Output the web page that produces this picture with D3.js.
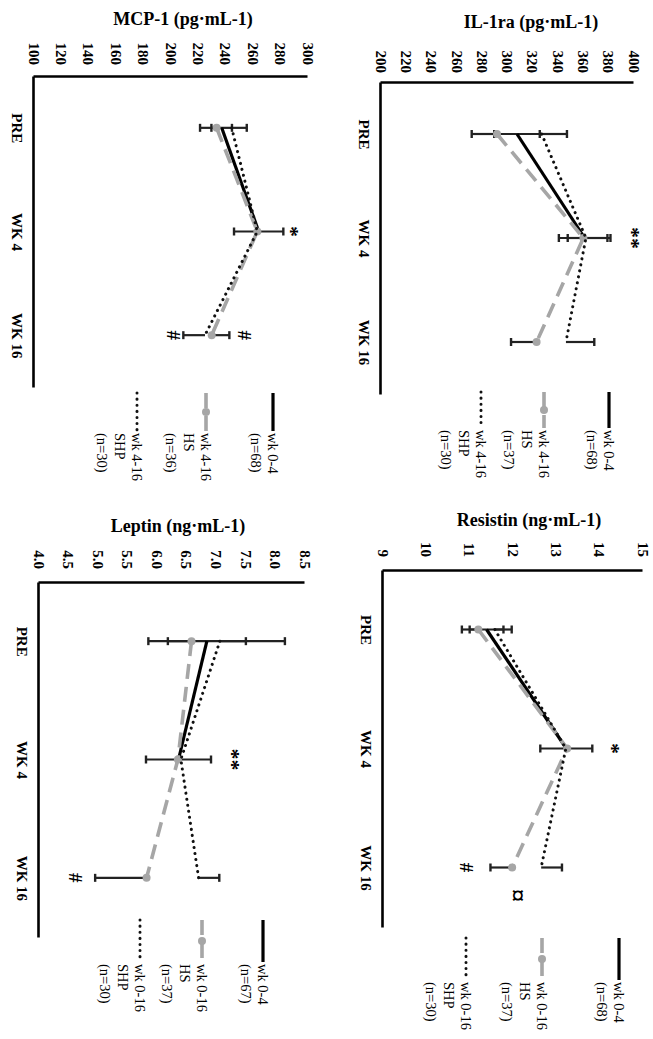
<!DOCTYPE html>
<html>
<head>
<meta charset="utf-8">
<script src="https://cdn.jsdelivr.net/npm/d3@7"></script>
<style>
body { margin: 0; background: #fff; }
text { font-family: "Liberation Serif", "Times New Roman", serif; }
</style>
</head>
<body>
<svg id="fig" width="653" height="1039"></svg>
<script>
var times = ["PRE", "WK 4", "WK 16"];

// MCP-1 (pg/mL)
var mcp_ticks = [100, 120, 140, 160, 180, 200, 220, 240, 260, 280, 300];
var mcp_wk04 = [237, 264, null];
var mcp_hs = [233.3, 263, 229.7];
var mcp_shp = [244.3, 263, 224.8];
// error bars as [minus, plus]; null = no bar
var mcp_wk04_err = [[7.5, 7.5], [18, 18], null];
var mcp_hs_err = [[12.1, 0], null, [0, 12.9]];
var mcp_shp_err = [[0, 11], null, [15.8, 0]];
var mcp_legend = [["wk 0-4", "(n=68)"], ["wk 4-16", "HS", "(n=36)"], ["wk 4-16", "SHP", "(n=30)"]];
var mcp_marks = [["WK 4", 288, "*"], ["WK 16", 201.5, "#"], ["WK 16", 254, "#"]];

// IL-1ra (pg/mL)
var il_ticks = [200, 220, 240, 260, 280, 300, 320, 340, 360, 380, 400];
var il_wk04 = [307.5, 361, null];
var il_hs = [291.7, 360, 323];
var il_shp = [327, 362, 346.2];
var il_wk04_err = [[18, 18], [20.4, 20.4], null];
var il_hs_err = [[20, 0], [12.4, 0], [20.2, 0]];
var il_shp_err = [[0, 20], [0, 17], [0, 22.4]];
var il_legend = [["wk 0-4", "(n=68)"], ["wk 4-16", "HS", "(n=37)"], ["wk 4-16", "SHP", "(n=30)"]];
var il_marks = [["WK 4", 399, "**"]];

// Leptin (ng/mL)
var lep_ticks = [4.0, 4.5, 5.0, 5.5, 6.0, 6.5, 7.0, 7.5, 8.0, 8.5];
var lep_wk04 = [6.84, 6.36, null];
var lep_hs = [6.58, 6.35, 5.82];
var lep_shp = [7.06, 6.40, 6.70];
var lep_wk04_err = [[0.66, 0.66], [0.55, 0.55], null];
var lep_hs_err = [[0.73, 0], null, [0.87, 0]];
var lep_shp_err = [[0, 1.1], null, [0, 0.35]];
var lep_legend = [["wk 0-4", "(n=67)"], ["wk 0-16", "HS", "(n=37)"], ["wk 0-16", "SHP", "(n=30)"]];
var lep_marks = [["WK 4", 7.28, "**"], ["WK 16", 4.61, "#"]];

// Resistin (ng/mL)
var res_ticks = [9, 10, 11, 12, 13, 14, 15];
var res_wk04 = [11.39, 13.23, null];
var res_hs = [11.20, 13.25, 11.98];
var res_shp = [11.58, 13.22, 12.65];
var res_wk04_err = [[0.39, 0.39], [0.6, 0.6], null];
var res_hs_err = [[0.38, 0], null, [0.5, 0]];
var res_shp_err = [[0, 0.39], null, [0, 0.48]];
var res_legend = [["wk 0-4", "(n=68)"], ["wk 0-16", "HS", "(n=37)"], ["wk 0-16", "SHP", "(n=30)"]];
var res_marks = [["WK 4", 14.3, "*"], ["WK 16", 10.92, "#"], ["WK 16", 12.11, "¤"]];

// line styles: wk 0-4 solid, HS grey dashed with dots, SHP dotted
var styles = [
    {stroke: "#000", width: 3.2, dash: null, cap: "butt", marker: false},
    {stroke: "#a6a6a6", width: 3.6, dash: "15,8", cap: "butt", marker: true},
    {stroke: "#111", width: 3, dash: "0.1,6", cap: "round", marker: false}
];

var panels = [
    {title: "MCP-1 (pg·mL-1)", ticks: mcp_ticks, fmt: d3.format("d"),
     series: [[mcp_wk04, mcp_wk04_err], [mcp_hs, mcp_hs_err], [mcp_shp, mcp_shp_err]],
     legend: mcp_legend, marks: mcp_marks,
     x0: 34, y0: 76, w: 274, h: 311, tx: 183, ty: 25, gap: 11, lx: 317, ly: [-239, -172, -103], sw: 38},
    {title: "IL-1ra (pg·mL-1)", ticks: il_ticks, fmt: d3.format("d"),
     series: [[il_wk04, il_wk04_err], [il_hs, il_hs_err], [il_shp, il_shp_err]],
     legend: il_legend, marks: il_marks,
     x0: 381, y0: 82, w: 253, h: 312, tx: 531, ty: 28, gap: 9, lx: 310, ly: [-228, -163, -100], sw: 36},
    {title: "Leptin (ng·mL-1)", ticks: lep_ticks, fmt: d3.format(".1f"),
     series: [[lep_wk04, lep_wk04_err], [lep_hs, lep_hs_err], [lep_shp, lep_shp_err]],
     legend: lep_legend, marks: lep_marks,
     x0: 39, y0: 582, w: 266, h: 355, tx: 178, ty: 532, gap: 13, lx: 338, ly: [-224, -163, -101], sw: 42},
    {title: "Resistin (ng·mL-1)", ticks: res_ticks, fmt: d3.format("d"),
     series: [[res_wk04, res_wk04_err], [res_hs, res_hs_err], [res_shp, res_shp_err]],
     legend: res_legend, marks: res_marks,
     x0: 383, y0: 570, w: 260, h: 357, tx: 529, ty: 526, gap: 13, lx: 368, ly: [-236, -159, -83], sw: 42}
];

var svg = d3.select("#fig");

function draw_panel(p){
    svg.append("text")
	.attr("x", p.tx).attr("y", p.ty)
	.attr("text-anchor", "middle")
	.attr("font-weight", "bold")
	.attr("font-size", 18)
	.text(p.title);

    // chart is drawn upright, then turned a quarter clockwise
    var g = svg.append("g")
	.attr("transform", "translate(" + p.x0 + "," + p.y0 + ") rotate(90)");

    var x = d3.scalePoint().domain(times).range([0, p.h]).padding(0.5);
    var y = d3.scaleLinear().domain(d3.extent(p.ticks)).range([0, -p.w]);

    var ya = g.append("g")
	.call(d3.axisLeft(y).tickValues(p.ticks).tickFormat(p.fmt)
	      .tickSize(0).tickPadding(p.gap));
    var xa = g.append("g")
	.call(d3.axisBottom(x).tickSize(0).tickPadding(11));
    [ya, xa].forEach(function(a){
	a.attr("font-size", null).attr("font-family", null);
	a.select(".domain").attr("stroke", "#000").attr("stroke-width", 2.6);
	a.selectAll("text")
	    .attr("fill", "#000")
	    .style("font-size", "15px")
	    .style("font-weight", "bold");
    });

    var line = d3.line()
	.defined(function(d){ return d.v != null; })
	.x(function(d){ return x(d.t); })
	.y(function(d){ return y(d.v); });

    // error bars
    p.series.forEach(function(s){
	s[0].forEach(function(v, i){
	    var e = s[1][i];
	    if (v == null || !e) return;
	    var cx = x(times[i]);
	    var lo = v - e[0], hi = v + e[1];
	    g.append("line")
		.attr("x1", cx).attr("x2", cx)
		.attr("y1", y(lo)).attr("y2", y(hi))
		.attr("stroke", "#222").attr("stroke-width", 2.2);
	    [[e[0], lo], [e[1], hi]].forEach(function(c){
		if (c[0] <= 0) return;
		g.append("line")
		    .attr("x1", cx - 4).attr("x2", cx + 4)
		    .attr("y1", y(c[1])).attr("y2", y(c[1]))
		    .attr("stroke", "#222").attr("stroke-width", 2.4);
	    });
	});
    });

    p.series.forEach(function(s, k){
	var st = styles[k];
	var pts = s[0].map(function(v, i){ return {t: times[i], v: v}; });
	g.append("path")
	    .datum(pts)
	    .attr("fill", "none")
	    .attr("stroke", st.stroke)
	    .attr("stroke-width", st.width)
	    .attr("stroke-dasharray", st.dash)
	    .attr("stroke-linecap", st.cap)
	    .attr("d", line);
	if (st.marker){
	    g.selectAll(null)
		.data(pts.filter(function(d){ return d.v != null; }))
		.enter().append("circle")
		.attr("cx", function(d){ return x(d.t); })
		.attr("cy", function(d){ return y(d.v); })
		.attr("r", 4)
		.attr("fill", st.stroke);
	}
    });

    // significance marks
    p.marks.forEach(function(m){
	var shift = m[2] == "¤" ? 28 : 0;
	var size = m[2] == "#" ? "19px" : (m[2] == "¤" ? "26px" : "22px");
	g.append("text")
	    .attr("x", x(m[0]) + shift)
	    .attr("y", y(m[1]))
	    .attr("text-anchor", "middle")
	    .attr("dominant-baseline", "central")
	    .style("font-weight", "bold")
	    .style("font-size", size)
	    .text(m[2]);
    });

    // legend
    p.legend.forEach(function(lines, k){
	var st = styles[k];
	var lg = g.append("g")
	    .attr("transform", "translate(" + p.lx + "," + p.ly[k] + ")");
	lg.append("line")
	    .attr("x1", 0).attr("x2", p.sw)
	    .attr("stroke", st.stroke)
	    .attr("stroke-width", st.width)
	    .attr("stroke-dasharray", st.dash)
	    .attr("stroke-linecap", st.cap);
	if (st.marker){
	    lg.append("circle").attr("cx", p.sw / 2).attr("r", 4).attr("fill", st.stroke);
	}
	lg.selectAll(null)
	    .data(lines)
	    .enter().append("text")
	    .attr("x", p.sw + 2)
	    .attr("y", function(d, j){ return j * 17.5; })
	    .attr("dominant-baseline", "central")
	    .style("font-size", "14.5px")
	    .text(function(d){ return d; });
    });
}

panels.forEach(draw_panel);
</script>
</body>
</html>
